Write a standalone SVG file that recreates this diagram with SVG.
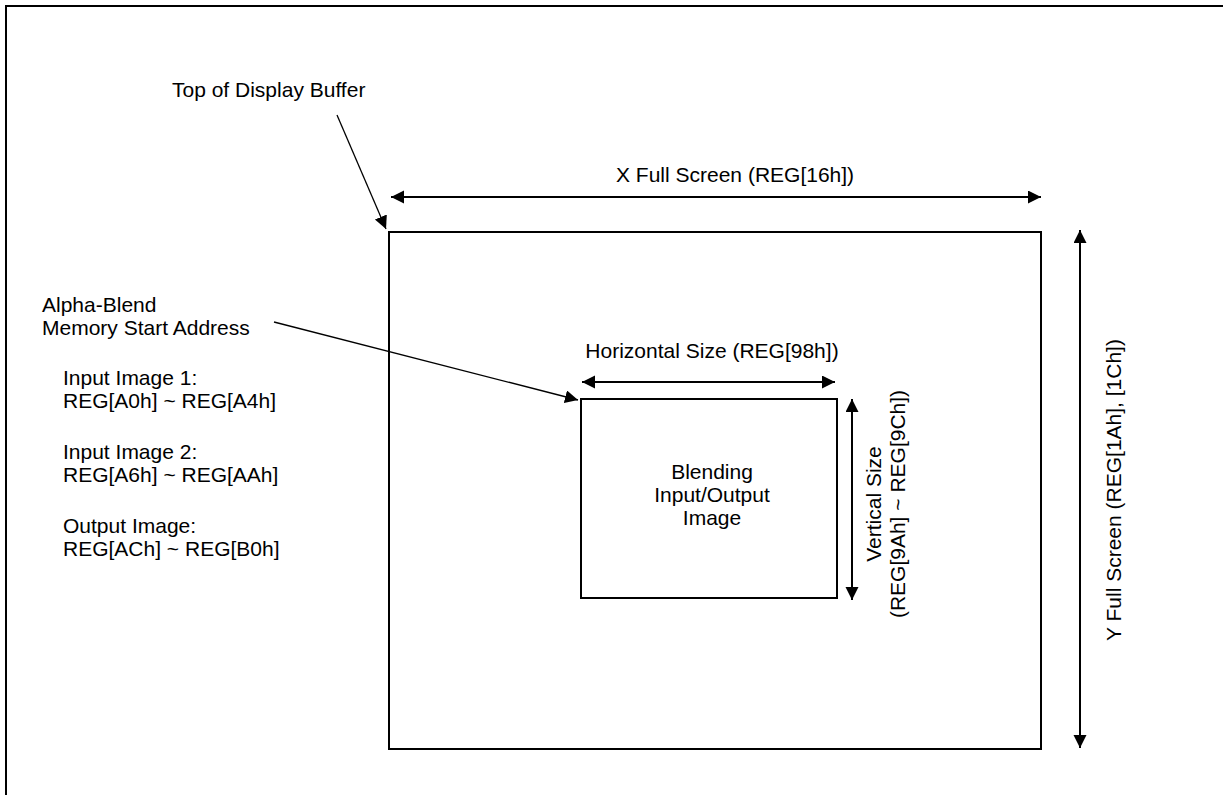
<svg xmlns="http://www.w3.org/2000/svg" width="1223" height="795" viewBox="0 0 1223 795">
  <defs>
    <marker id="ah" markerUnits="userSpaceOnUse" markerWidth="14" markerHeight="14" viewBox="0 0 14 14" refX="13" refY="6.5" orient="auto-start-reverse">
      <path d="M0,0 L13,6.5 L0,13 Z" fill="#000"/>
    </marker>
  </defs>
  <style>
    text { font-family: "Liberation Sans", Arial, sans-serif; font-size: 21px; fill: #000; }
    .box { fill: none; stroke: #000; stroke-width: 2; }
    .dim { stroke: #000; stroke-width: 2; fill: none; marker-start: url(#ah); marker-end: url(#ah); }
    .lead { stroke: #000; stroke-width: 1.3; fill: none; marker-end: url(#ah); }
    .mid { text-anchor: middle; }
  </style>
  <rect width="1223" height="795" fill="#fff"/>
  <path d="M6,795 V6 H1223" class="box"/>

  <g id="display-buffer">
    <rect x="389" y="232" width="652" height="517" class="box"/>
  </g>
  <g id="blend-image">
    <rect x="581" y="399" width="256" height="199" class="box"/>
    <text x="712" y="479" class="mid">Blending</text>
    <text x="712" y="502" class="mid">Input/Output</text>
    <text x="712" y="525" class="mid">Image</text>
  </g>
  <g id="label-top">
    <text x="172" y="97">Top of Display Buffer</text>
  </g>
  <g id="label-alpha">
    <text x="42" y="312">Alpha-Blend</text>
    <text x="42" y="335">Memory Start Address</text>
    <text x="63" y="385">Input Image 1:</text>
    <text x="63" y="408">REG[A0h] ~ REG[A4h]</text>
    <text x="63" y="459">Input Image 2:</text>
    <text x="63" y="482">REG[A6h] ~ REG[AAh]</text>
    <text x="63" y="533">Output Image:</text>
    <text x="63" y="556">REG[ACh] ~ REG[B0h]</text>
  </g>
  <g id="label-x">
    <text x="616" y="182">X Full Screen (REG[16h])</text>
  </g>
  <g id="label-y">
    <text transform="translate(1121,490) rotate(-90)" class="mid">Y Full Screen (REG[1Ah], [1Ch])</text>
  </g>
  <g id="label-h">
    <text x="712" y="358" class="mid">Horizontal Size (REG[98h])</text>
  </g>
  <g id="label-v">
    <text transform="translate(881,504) rotate(-90)" class="mid">Vertical Size</text>
    <text transform="translate(905,504) rotate(-90)" class="mid">(REG[9Ah] ~ REG[9Ch])</text>
  </g>

  <g id="connectors">
    <line x1="391" y1="197" x2="1041" y2="197" class="dim"/>
    <line x1="1080" y1="230" x2="1080" y2="748" class="dim"/>
    <line x1="582" y1="382" x2="835" y2="382" class="dim"/>
    <line x1="852" y1="399" x2="852" y2="600" class="dim"/>
    <line x1="337" y1="115" x2="386" y2="229" class="lead"/>
    <line x1="274" y1="322" x2="578" y2="400" class="lead"/>
  </g>
</svg>
